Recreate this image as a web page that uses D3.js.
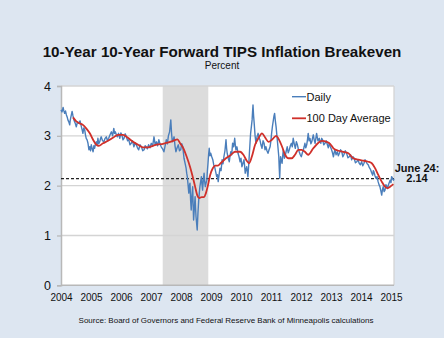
<!DOCTYPE html>
<html><head><meta charset="utf-8">
<script src="https://cdn.jsdelivr.net/npm/d3@7"></script>
<style>
html,body{margin:0;padding:0;background:#dde6f1;}
svg{display:block;font-family:"Liberation Sans",Arial,sans-serif;}
</style></head>
<body>
<svg id="chart" width="444" height="338"></svg>
<script>
// ---- data ----
const yearTicks = [2004,2005,2006,2007,2008,2009,2010,2011,2012,2013,2014,2015];
const yTicks = [0,1,2,3,4];
// daily series: [decimal year, percent]
const daily = [
[2004.00,3.52],[2004.035,3.48],[2004.07,3.57],[2004.095,3.50],[2004.12,3.45],[2004.15,3.50],[2004.18,3.42],[2004.205,3.38],[2004.23,3.32],[2004.26,3.28],
[2004.29,3.22],[2004.305,3.30],[2004.32,3.35],[2004.345,3.42],[2004.37,3.49],[2004.40,3.40],[2004.43,3.32],[2004.47,3.26],[2004.51,3.18],[2004.55,3.28],
[2004.59,3.25],[2004.635,3.30],[2004.68,3.18],[2004.705,3.12],[2004.73,3.05],[2004.76,3.16],[2004.79,3.12],[2004.815,3.02],[2004.84,2.95],[2004.87,2.92],
[2004.90,2.85],[2004.93,2.72],[2004.96,2.78],[2004.985,2.70],[2005.01,2.82],[2005.04,2.74],[2005.07,2.68],[2005.095,2.80],[2005.12,2.75],[2005.15,2.84],
[2005.18,2.88],[2005.205,2.82],[2005.23,2.95],[2005.26,2.84],[2005.29,2.88],[2005.315,2.94],[2005.34,2.98],[2005.385,2.90],[2005.43,2.88],[2005.47,2.95],
[2005.51,2.98],[2005.55,2.90],[2005.59,2.95],[2005.635,3.02],[2005.68,3.08],[2005.72,3.00],[2005.76,3.15],[2005.785,3.05],[2005.81,3.08],[2005.845,3.02],
[2005.88,2.98],[2005.92,3.05],[2005.96,2.95],[2005.995,3.06],[2006.03,3.02],[2006.065,2.92],[2006.10,2.95],[2006.14,3.04],[2006.18,2.98],[2006.22,2.90],
[2006.26,2.92],[2006.30,2.82],[2006.34,2.85],[2006.385,2.90],[2006.43,2.78],[2006.47,2.86],[2006.51,2.82],[2006.55,2.76],[2006.59,2.72],[2006.635,2.82],
[2006.68,2.78],[2006.725,2.70],[2006.77,2.72],[2006.805,2.80],[2006.84,2.78],[2006.88,2.74],[2006.92,2.82],[2006.965,2.76],[2007.01,2.85],[2007.055,2.80],
[2007.10,2.98],[2007.14,2.82],[2007.18,2.88],[2007.22,2.80],[2007.26,2.92],[2007.30,2.84],[2007.34,2.78],[2007.385,2.74],[2007.43,2.68],[2007.47,2.80],
[2007.51,2.92],[2007.545,2.84],[2007.58,3.00],[2007.62,3.08],[2007.66,3.32],[2007.685,3.05],[2007.71,2.88],[2007.74,2.92],[2007.77,2.98],[2007.80,2.80],
[2007.83,2.68],[2007.87,2.76],[2007.91,2.82],[2007.95,2.70],[2007.99,2.72],[2008.025,2.84],[2008.06,2.78],[2008.08,2.66],[2008.10,2.55],[2008.135,2.45],
[2008.17,2.35],[2008.19,2.25],[2008.21,2.18],[2008.235,2.02],[2008.26,1.85],[2008.28,2.00],[2008.30,2.05],[2008.32,1.72],[2008.34,1.51],[2008.365,1.80],
[2008.39,1.98],[2008.405,1.60],[2008.42,1.31],[2008.445,1.55],[2008.47,1.78],[2008.485,1.55],[2008.50,1.38],[2008.52,1.25],[2008.54,1.11],[2008.565,1.45],
[2008.59,1.71],[2008.61,1.85],[2008.63,1.98],[2008.655,2.08],[2008.68,2.18],[2008.70,2.02],[2008.72,1.91],[2008.745,2.12],[2008.77,2.25],[2008.79,2.08],
[2008.81,1.98],[2008.835,2.05],[2008.86,2.11],[2008.88,2.30],[2008.90,2.45],[2008.92,2.62],[2008.94,2.75],[2008.965,2.60],[2008.99,2.65],[2009.025,2.58],
[2009.06,2.52],[2009.09,2.42],[2009.12,2.38],[2009.155,2.28],[2009.19,2.18],[2009.215,2.22],[2009.24,2.08],[2009.27,2.22],[2009.30,2.35],[2009.335,2.30],
[2009.37,2.52],[2009.40,2.44],[2009.43,2.58],[2009.465,2.70],[2009.50,2.92],[2009.52,2.75],[2009.54,2.65],[2009.575,2.55],[2009.61,2.48],[2009.635,2.60],
[2009.66,2.68],[2009.69,2.62],[2009.72,2.85],[2009.755,2.78],[2009.79,2.95],[2009.81,2.82],[2009.83,2.72],[2009.865,2.78],[2009.90,2.65],[2009.935,2.58],
[2009.97,2.48],[2010.00,2.55],[2010.03,2.38],[2010.065,2.45],[2010.10,2.52],[2010.12,2.40],[2010.14,2.25],[2010.165,2.32],[2010.19,2.38],[2010.21,2.28],
[2010.23,2.18],[2010.255,2.40],[2010.28,2.65],[2010.30,2.85],[2010.32,3.05],[2010.345,3.18],[2010.37,3.32],[2010.385,3.48],[2010.40,3.62],[2010.42,3.40],
[2010.44,3.25],[2010.47,3.00],[2010.50,2.85],[2010.535,2.98],[2010.57,3.05],[2010.60,2.96],[2010.63,2.92],[2010.665,2.82],[2010.70,2.75],[2010.735,2.90],
[2010.77,2.85],[2010.80,2.72],[2010.83,2.78],[2010.865,2.70],[2010.90,2.65],[2010.935,2.72],[2010.97,2.78],[2011.00,2.92],[2011.02,3.05],[2011.05,3.20],
[2011.08,3.32],[2011.10,3.40],[2011.12,3.45],[2011.145,3.30],[2011.17,3.18],[2011.19,3.05],[2011.21,2.92],[2011.235,2.75],[2011.26,2.58],[2011.275,2.35],
[2011.29,2.15],[2011.305,2.40],[2011.32,2.58],[2011.345,2.50],[2011.37,2.45],[2011.39,2.60],[2011.41,2.72],[2011.445,2.55],[2011.48,2.62],[2011.51,2.70],
[2011.54,2.78],[2011.575,2.66],[2011.61,2.72],[2011.645,2.80],[2011.68,2.85],[2011.71,2.78],[2011.74,2.95],[2011.775,2.84],[2011.81,2.75],[2011.845,2.88],
[2011.88,2.82],[2011.91,2.74],[2011.94,2.68],[2011.975,2.62],[2012.01,2.58],[2012.045,2.66],[2012.08,2.72],[2012.105,2.78],[2012.13,2.85],[2012.16,2.76],
[2012.19,2.82],[2012.215,2.92],[2012.24,3.05],[2012.27,2.90],[2012.30,2.95],[2012.33,2.84],[2012.36,2.88],[2012.385,2.96],[2012.41,3.02],[2012.44,2.92],
[2012.47,2.85],[2012.495,2.95],[2012.52,3.05],[2012.565,2.90],[2012.61,2.95],[2012.635,2.88],[2012.66,2.85],[2012.69,2.95],[2012.72,2.92],[2012.76,2.82],
[2012.80,2.85],[2012.84,2.90],[2012.88,2.82],[2012.91,2.76],[2012.94,2.85],[2012.98,2.78],[2013.02,2.72],[2013.05,2.66],[2013.08,2.58],[2013.105,2.66],
[2013.13,2.72],[2013.17,2.62],[2013.21,2.68],[2013.245,2.60],[2013.28,2.65],[2013.32,2.72],[2013.36,2.68],[2013.395,2.58],[2013.43,2.62],[2013.475,2.70],
[2013.52,2.65],[2013.565,2.56],[2013.61,2.58],[2013.65,2.62],[2013.69,2.52],[2013.73,2.58],[2013.77,2.55],[2013.815,2.46],[2013.86,2.48],[2013.90,2.52],
[2013.94,2.45],[2013.98,2.42],[2014.02,2.48],[2014.06,2.40],[2014.10,2.45],[2014.135,2.52],[2014.17,2.48],[2014.205,2.44],[2014.24,2.42],[2014.28,2.36],
[2014.32,2.32],[2014.355,2.26],[2014.39,2.21],[2014.41,2.30],[2014.43,2.28],[2014.465,2.20],[2014.50,2.15],[2014.535,2.18],[2014.57,2.08],[2014.60,2.02],
[2014.63,1.98],[2014.66,1.90],[2014.69,1.81],[2014.715,1.92],[2014.74,1.98],[2014.77,1.88],[2014.80,1.91],[2014.83,2.02],[2014.86,1.98],[2014.885,1.94],
[2014.91,2.01],[2014.94,2.06],[2014.97,2.11],[2015.00,2.06],[2015.02,2.18],[2015.05,2.15],[2015.08,2.11],[2015.10,2.14]];
// 100-day average: [decimal year, percent]
const average = [
[2004.40,3.37],[2004.51,3.29],[2004.62,3.25],[2004.73,3.22],[2004.84,3.15],[2004.96,3.05],[2005.07,2.92],[2005.18,2.82],[2005.26,2.80],[2005.40,2.85],
[2005.57,2.90],[2005.73,2.96],[2005.90,3.02],[2006.07,3.02],[2006.23,2.96],[2006.40,2.88],[2006.57,2.82],[2006.73,2.77],[2006.90,2.77],[2007.07,2.80],
[2007.23,2.83],[2007.40,2.84],[2007.58,2.87],[2007.74,2.90],[2007.88,2.93],[2007.97,2.85],[2008.08,2.75],[2008.19,2.58],[2008.30,2.38],[2008.39,2.18],
[2008.47,1.98],[2008.54,1.81],[2008.61,1.75],[2008.69,1.77],[2008.77,1.77],[2008.83,1.85],[2008.90,2.01],[2008.97,2.21],[2009.06,2.35],[2009.14,2.40],
[2009.23,2.40],[2009.32,2.45],[2009.41,2.50],[2009.52,2.56],[2009.63,2.60],[2009.80,2.68],[2009.97,2.68],[2010.08,2.62],[2010.19,2.50],[2010.27,2.45],
[2010.36,2.58],[2010.47,2.82],[2010.58,2.95],[2010.70,3.05],[2010.80,2.97],[2010.92,2.88],[2011.03,2.92],[2011.17,3.00],[2011.27,2.92],[2011.37,2.78],
[2011.47,2.62],[2011.58,2.55],[2011.69,2.55],[2011.80,2.62],[2011.91,2.72],[2012.02,2.72],[2012.13,2.68],[2012.24,2.62],[2012.41,2.75],[2012.58,2.86],
[2012.69,2.90],[2012.86,2.88],[2012.97,2.84],[2013.08,2.75],[2013.24,2.70],[2013.41,2.68],[2013.58,2.65],[2013.74,2.55],[2013.91,2.52],[2014.08,2.50],
[2014.24,2.48],[2014.36,2.45],[2014.47,2.35],[2014.58,2.21],[2014.69,2.08],[2014.80,1.98],[2014.88,1.95],[2014.97,1.98],[2015.08,2.03]];
const shadeRange = [2007.39, 2008.91];
const refValue = 2.14;
const seriesNames = ["Daily", "100 Day Average"];
const titleText = "10-Year 10-Year Forward TIPS Inflation Breakeven";
const subtitleText = "Percent";
const noteLines = ["June 24:", "2.14"];
const sourceText = "Source: Board of Governors and Federal Reserve Bank of Minneapolis calculations";

// ---- drawing ----
(function () {
const svg = d3.select("#chart");
const pL = 61, pR = 394, pT = 86, pB = 285.3;
const x = d3.scaleLinear().domain([2004, 2015.1]).range([pL, pL + 30 * 11.1]);
const y = d3.scaleLinear().domain([0, 4]).range([pB, pT]);
const blue = "#4a7ebb", red = "#d0302a";

svg.append("text").attr("x", 222).attr("y", 56.5).attr("text-anchor", "middle")
  .attr("font-size", 15.2).attr("font-weight", "bold").attr("fill", "#111").text(titleText);
svg.append("text").attr("x", 222).attr("y", 68.5).attr("text-anchor", "middle")
  .attr("font-size", 10).attr("fill", "#111").text(subtitleText);

svg.append("rect").attr("x", pL).attr("y", pT).attr("width", pR - pL).attr("height", pB - pT)
  .attr("fill", "#fff");

svg.append("rect").attr("x", x(shadeRange[0])).attr("y", pT)
  .attr("width", x(shadeRange[1]) - x(shadeRange[0])).attr("height", pB - pT).attr("fill", "#dcdcdc");

svg.append("g").selectAll("line").data(yTicks.filter(d => d > 0)).join("line")
  .attr("x1", pL).attr("x2", pR).attr("y1", d => y(d)).attr("y2", d => y(d))
  .attr("stroke", "#d4d4d4").attr("stroke-width", 1.3);
svg.append("line").attr("x1", pR).attr("x2", pR).attr("y1", pT).attr("y2", pB)
  .attr("stroke", "#d4d4d4").attr("stroke-width", 1.3);

const yAxis = d3.axisLeft(y).tickValues(yTicks).tickSize(4).tickPadding(6).tickFormat(d3.format("d"));
const gy = svg.append("g").attr("transform", `translate(${pL},0)`).call(yAxis);
gy.select(".domain").attr("stroke", "#b8b8b8").attr("stroke-width", 1.5);
gy.selectAll(".tick line").attr("stroke", "#b8b8b8").attr("stroke-width", 1.3);
gy.selectAll("text").attr("font-size", 12.5).attr("fill", "#111").attr("font-family", "Liberation Sans, Arial, sans-serif");

const xAxis = d3.axisBottom(x).tickValues(yearTicks).tickSize(0).tickPadding(9).tickFormat(d3.format("d"));
const gx = svg.append("g").attr("transform", `translate(0,${pB})`).call(xAxis);
gx.select(".domain").attr("stroke", "#b8b8b8").attr("stroke-width", 1.5).attr("d", `M${pL},0H${pR}`);
gx.selectAll("text").attr("font-size", 10).attr("fill", "#111").attr("font-family", "Liberation Sans, Arial, sans-serif");

svg.append("line").attr("x1", pL).attr("x2", pR).attr("y1", y(refValue)).attr("y2", y(refValue))
  .attr("stroke", "#222").attr("stroke-width", 1.3).attr("stroke-dasharray", "3,2");

const line = d3.line().x(d => x(d[0])).y(d => y(d[1]));
svg.append("path").datum(daily).attr("d", line)
  .attr("fill", "none").attr("stroke", blue).attr("stroke-width", 1.4).attr("stroke-linejoin", "round");
svg.append("path").datum(average)
  .attr("d", d3.line().curve(d3.curveMonotoneX).x(d => x(d[0])).y(d => y(d[1])))
  .attr("fill", "none").attr("stroke", red).attr("stroke-width", 1.8).attr("stroke-linejoin", "round");

const lg = svg.append("g");
[[blue, 96.7], [red, 118.3]].forEach((c, i) => {
  lg.append("line").attr("x1", 292).attr("x2", 306).attr("y1", c[1]).attr("y2", c[1])
    .attr("stroke", c[0]).attr("stroke-width", i ? 1.8 : 1.4);
  lg.append("text").attr("x", 306.5).attr("y", c[1] + 4).attr("font-size", 11).attr("fill", "#111").text(seriesNames[i]);
});

svg.append("text").attr("x", 417).attr("y", 171.5).attr("text-anchor", "middle")
  .attr("font-size", 11).attr("font-weight", "bold").attr("fill", "#111").text(noteLines[0]);
svg.append("text").attr("x", 417).attr("y", 182).attr("text-anchor", "middle")
  .attr("font-size", 11).attr("font-weight", "bold").attr("fill", "#111").text(noteLines[1]);

svg.append("text").attr("x", 226).attr("y", 323).attr("text-anchor", "middle")
  .attr("font-size", 8).attr("fill", "#111").text(sourceText);
})();
</script>
</body></html>
